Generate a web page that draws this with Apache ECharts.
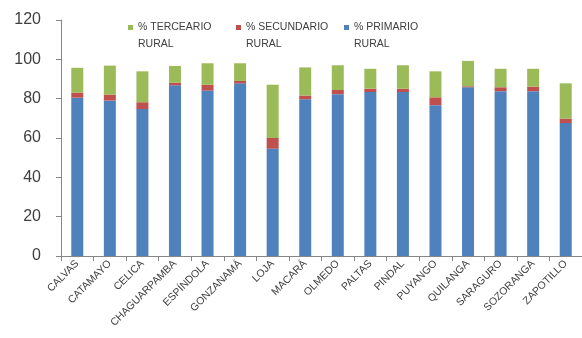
<!DOCTYPE html>
<html>
<head>
<meta charset="utf-8">
<script src="https://cdn.jsdelivr.net/npm/echarts@6/dist/echarts.min.js"></script>
<style>
    html, body { margin: 0; padding: 0; background: #fff; }
    #chartBox { width: 582px; height: 338px; }
</style>
</head>
<body>
<div id="chartBox"></div>
<script>
//cantones
var categories = ["CALVAS", "CATAMAYO", "CELICA", "CHAGUARPAMBA", "ESPÍNDOLA", "GONZANAMÁ", "LOJA", "MACARÁ",
    "OLMEDO", "PALTAS", "PINDAL", "PUYANGO", "QUILANGA", "SARAGURO", "SOZORANGA", "ZAPOTILLO"];
var primario = [80.5, 79.0, 74.7, 86.8, 84.1, 87.8, 54.6, 79.7, 82.3, 83.4, 83.4, 76.7, 85.8, 83.8, 83.8, 67.6];
var secundario = [2.6, 3.1, 3.5, 1.3, 3.0, 1.2, 5.4, 1.9, 2.1, 1.7, 1.7, 4.0, 0.5, 2.0, 2.3, 2.3];
var terciario = [12.6, 14.7, 15.7, 8.5, 10.9, 9.0, 27.1, 14.3, 12.6, 10.1, 11.9, 13.2, 12.9, 9.4, 9.1, 17.9];
var legendNames = ["% TERCEARIO\nRURAL", "% SECUNDARIO\nRURAL", "% PRIMARIO\nRURAL"];

var myChart = echarts.init(document.getElementById('chartBox'));

var option = {
    animation: false,
    legend: {
        data: legendNames,
        left: 128,
        top: 2,
        padding: 0,
        itemWidth: 5,
        itemHeight: 5,
        itemGap: 8,
        icon: 'rect',
        //linea vacia arriba para que el icono quede en la primera linea
        formatter: function (name) {
            return '\n' + name;
        },
        textStyle: {
            fontFamily: 'Liberation Sans',
            fontSize: 10.5,
            color: '#404040',
            lineHeight: 17,
            width: 90
        }
    },
    grid: {
        left: 61,
        top: 20,
        width: 531,
        height: 236
    },
    xAxis: {
        type: 'category',
        data: categories,
        axisLine: {
            lineStyle: { color: '#868686' }
        },
        axisTick: {
            show: true,
            length: 5,
            lineStyle: { color: '#868686' }
        },
        axisLabel: {
            rotate: 45,
            interval: 0,
            margin: 6,
            fontFamily: 'Liberation Sans',
            fontSize: 10.5,
            color: '#404040'
        }
    },
    yAxis: {
        type: 'value',
        min: 0,
        max: 120,
        interval: 20,
        splitLine: { show: false },
        axisLine: {
            show: true,
            lineStyle: { color: '#868686' }
        },
        axisTick: {
            show: true,
            length: 5,
            lineStyle: { color: '#868686' }
        },
        axisLabel: {
            margin: 20,
            fontFamily: 'Liberation Sans',
            fontSize: 16,
            color: '#404040'
        }
    },
    series: [
        {
            name: legendNames[2],
            type: 'bar',
            stack: 'total',
            barWidth: 12,
            itemStyle: { color: '#4F81BD' },
            data: primario
        },
        {
            name: legendNames[1],
            type: 'bar',
            stack: 'total',
            barWidth: 12,
            itemStyle: { color: '#C0504D' },
            data: secundario
        },
        {
            name: legendNames[0],
            type: 'bar',
            stack: 'total',
            barWidth: 12,
            itemStyle: { color: '#9BBB59' },
            data: terciario
        }
    ]
};

myChart.setOption(option);
</script>
</body>
</html>
